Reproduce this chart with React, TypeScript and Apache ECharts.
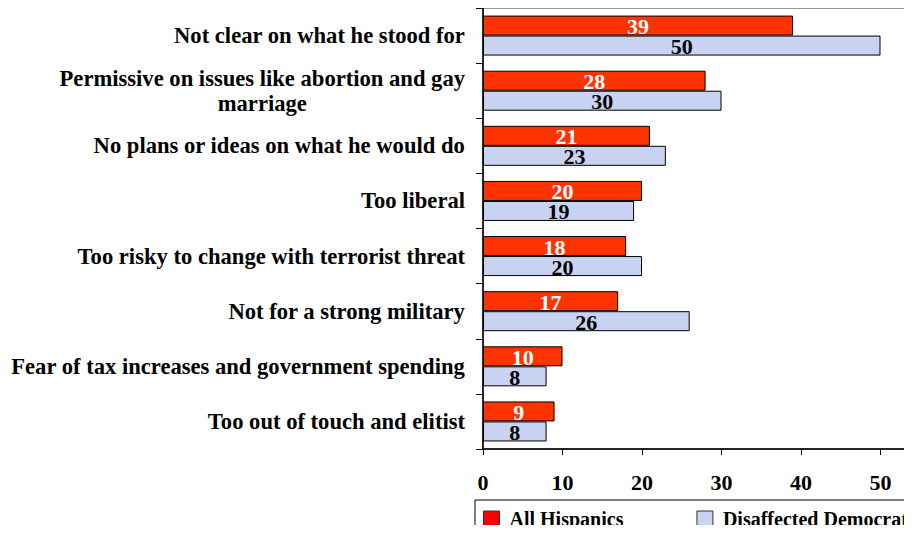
import React, { useEffect, useRef } from "react";
import * as echarts from "echarts";

const categories = [
  "Not clear on what he stood for",
  "Permissive on issues like abortion and gay\nmarriage",
  "No plans or ideas on what he would do",
  "Too liberal",
  "Too risky to change with terrorist threat",
  "Not for a strong military",
  "Fear of tax increases and government spending",
  "Too out of touch and elitist",
];
const allHispanics = [39, 28, 21, 20, 18, 17, 10, 9];
const disaffectedDemocrats = [50, 30, 23, 19, 20, 26, 8, 8];
const seriesNames = ["All Hispanics", "Disaffected Democrats"];

const FONT = "'Liberation Serif', 'Times New Roman', serif";

export default function App() {
  const ref = useRef<HTMLDivElement>(null);
  useEffect(() => {
    if (!ref.current) return;
    const chart = echarts.init(ref.current, null, { renderer: "svg" });
    chart.setOption({
      animation: false,
      textStyle: { fontFamily: FONT },
      grid: {
        left: 483,
        top: 8,
        right: -48,
        bottom: 84,
        outerBoundsMode: "none",
        containLabel: false,
        show: true,
        borderColor: "#333",
        borderWidth: 1,
      },
      legend: {
        left: 475,
        top: 500,
        width: 620,
        orient: "horizontal",
        itemWidth: 16,
        itemHeight: 16,
        itemGap: 73,
        padding: [9, 9, 6, 8],
        borderColor: "#000",
        borderWidth: 1,
        borderRadius: 0,
        icon: "rect",
        textStyle: {
          fontFamily: FONT,
          fontSize: 20,
          fontWeight: "bold",
          color: "#000",
          padding: [0, 0, 0, 5],
        },
        data: [
          {
            name: seriesNames[0],
            itemStyle: { color: "#ff0000", borderColor: "#333", borderWidth: 1 },
          },
          {
            name: seriesNames[1],
            itemStyle: { color: "#c8d3f2", borderColor: "#333", borderWidth: 1 },
          },
        ],
      },
      xAxis: {
        type: "value",
        min: 0,
        max: 60,
        interval: 10,
        axisLine: { show: true, lineStyle: { color: "#000", width: 1.5 } },
        axisTick: { show: true, length: 6, lineStyle: { color: "#000" } },
        splitLine: { show: false },
        axisLabel: {
          margin: 22,
          showMaxLabel: false,
          fontFamily: FONT,
          fontSize: 22,
          fontWeight: "bold",
          color: "#000",
        },
      },
      yAxis: {
        type: "category",
        inverse: true,
        data: categories,
        axisLine: { show: true, lineStyle: { color: "#000", width: 1.5 } },
        axisTick: { show: true, length: 7, lineStyle: { color: "#000" } },
        axisLabel: {
          margin: 18,
          color: "#000",
          align: "right",
          formatter: (v: string) =>
            v
              .split("\n")
              .map((l) => `{c|${l}}`)
              .join("\n"),
          rich: {
            c: {
              align: "center",
              fontFamily: FONT,
              fontSize: 22.6,
              fontWeight: "bold",
              color: "#000",
              lineHeight: 25,
            },
          },
        },
      },
      series: [
        {
          name: seriesNames[0],
          type: "bar",
          data: allHispanics,
          barWidth: 20,
          barGap: "0%",
          itemStyle: { color: "#ff3300", borderColor: "#000", borderWidth: 1 },
          label: {
            show: true,
            position: "inside",
            color: "#fff",
            fontFamily: FONT,
            fontSize: 22,
            fontWeight: "bold",
            offset: [0, 1],
          },
        },
        {
          name: seriesNames[1],
          type: "bar",
          data: disaffectedDemocrats,
          barWidth: 20,
          barGap: "0%",
          itemStyle: { color: "#c8d3f2", borderColor: "#000", borderWidth: 1 },
          label: {
            show: true,
            position: "inside",
            color: "#000",
            fontFamily: FONT,
            fontSize: 22,
            fontWeight: "bold",
            offset: [0, 1],
          },
        },
      ],
    });
    return () => chart.dispose();
  }, []);
  return <div ref={ref} style={{ width: 912, height: 533, margin: -8 }} />;
}
